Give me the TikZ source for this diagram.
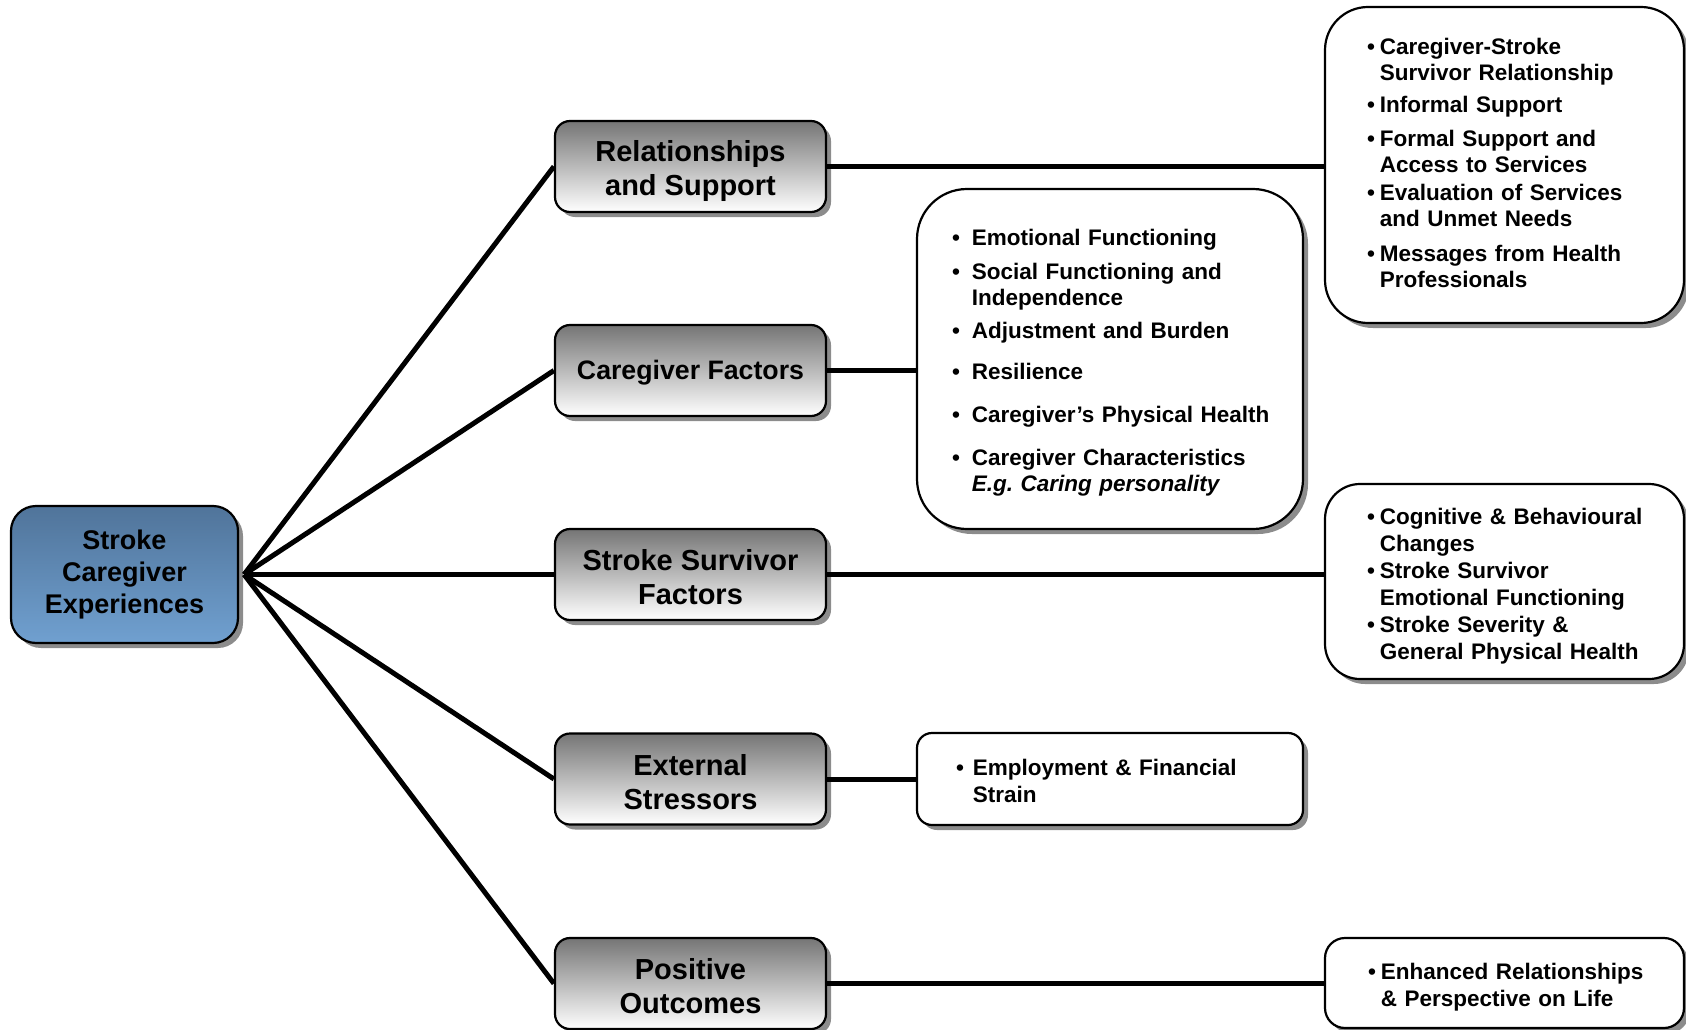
\documentclass[tikz,border=0pt]{standalone}
\usepackage{fontspec}
\setmainfont{Liberation Sans}
\usetikzlibrary{shadows}
\definecolor{rootTop}{RGB}{80,116,154}
\definecolor{rootBottom}{RGB}{112,160,208}
% struts for the factor boxes, and a shift that keeps the box size
\newcommand\topStrut{\rule{0pt}{30pt}}
\newcommand\botStrut{\rule[-4pt]{0pt}{4pt}}
\newcommand\lowerText[2]{\raisebox{-#1}[\height][\depth]{#2}}
\begin{document}
\begin{tikzpicture}[x=1pt,y=-1pt,
    boxshadow/.style={drop shadow={shadow xshift=5pt,shadow yshift=-5pt,fill=black!45,opacity=1}},
    rootbox/.style={draw,line width=2.2pt,rounded corners=25pt,boxshadow,
      top color=rootTop,bottom color=rootBottom,minimum width=227pt,minimum height=137pt,
      align=center,font=\bfseries\fontsize{27}{32}\selectfont},
    factorbox/.style={draw,line width=2.2pt,rounded corners=15pt,boxshadow,
      top color=black!54,bottom color=white,minimum width=271pt,minimum height=91pt,
      align=center,inner sep=0pt,font=\bfseries\fontsize{29}{34}\selectfont},
    listbox/.style={draw,line width=2.2pt,boxshadow,fill=white,align=left,inner ysep=0pt,
      font=\bfseries\fontsize{22.5}{26}\selectfont},
    fan/.style={line width=5pt},
    link/.style={line width=5pt}]
  \useasboundingbox (0,0) rectangle (1686,1030);
  \draw
    (124.5,574.5) node[rootbox] (root){Stroke\\Caregiver\\Experiences}
    (690.5,166.5) node[factorbox] (rel){\topStrut Relationships\\and Support\botStrut}
    (690.5,370.5) node[factorbox,font=\bfseries\fontsize{26.7}{32}\selectfont] (care){\rule[-5pt]{0pt}{29pt}Caregiver Factors}
    (690.5,574.5) node[factorbox] (surv){\topStrut Stroke Survivor\\Factors\botStrut}
    (690.5,779) node[factorbox] (ext){\topStrut External\\Stressors\botStrut}
    (690.5,983.5) node[factorbox] (pos){\topStrut Positive\\Outcomes\botStrut}
    (1504.5,165) node[listbox,rounded corners=43pt,text width=275pt,inner xsep=42pt,minimum height=316pt] (relList){%
      \lowerText{1pt}{\begin{tabular}{@{}l@{\hspace{5pt}}l@{}}
        \textbullet & Caregiver-Stroke\\
                    & Survivor Relationship\\[6pt]
        \textbullet & Informal Support\\[8pt]
        \textbullet & Formal Support and\\
                    & Access to Services\\[2pt]
        \textbullet & Evaluation of Services\\
                    & and Unmet Needs\\[9pt]
        \textbullet & Messages from Health\\
                    & Professionals
      \end{tabular}}}
    (1110,359) node[listbox,rounded corners=50pt,text width=316pt,inner xsep=35pt,minimum height=340pt] (careList){%
      \lowerText{4pt}{\begin{tabular}{@{}l@{\hspace{12pt}}l@{}}
        \textbullet & Emotional Functioning\\[8pt]
        \textbullet & Social Functioning and\\
                    & Independence\\[7pt]
        \textbullet & Adjustment and Burden\\[15pt]
        \textbullet & Resilience\\[17pt]
        \textbullet & Caregiver’s Physical Health\\[17pt]
        \textbullet & Caregiver Characteristics\\
                    & \textit{E.g.\ Caring personality}
      \end{tabular}}}
    (1504.5,581.5) node[listbox,rounded corners=35pt,text width=275pt,inner xsep=42pt,minimum height=195pt,
      font=\bfseries\fontsize{22.5}{27}\selectfont] (survList){%
      \lowerText{5pt}{\begin{tabular}{@{}l@{\hspace{5pt}}l@{}}
        \textbullet & Cognitive \& Behavioural\\
                    & Changes\\
        \textbullet & Stroke Survivor\\
                    & Emotional Functioning\\
        \textbullet & Stroke Severity \&\\
                    & General Physical Health
      \end{tabular}}}
    (1110,779) node[listbox,rounded corners=15pt,text width=308pt,inner xsep=39pt,minimum height=92pt,
      font=\bfseries\fontsize{22.5}{27}\selectfont] (extList){%
      \lowerText{5pt}{\begin{tabular}{@{}l@{\hspace{9pt}}l@{}}
        \textbullet & Employment \& Financial\\
                    & Strain
      \end{tabular}}}
    (1504.5,983) node[listbox,rounded corners=20pt,text width=273pt,inner xsep=43pt,minimum height=90pt,
      font=\bfseries\fontsize{22.5}{27}\selectfont] (posList){%
      \lowerText{5pt}{\begin{tabular}{@{}l@{\hspace{5pt}}l@{}}
        \textbullet & Enhanced Relationships\\
                    & \& Perspective on Life
      \end{tabular}}};
  \begin{scope}[fan]
    \draw ([xshift=5pt]root.east) to (rel.west);
    \draw ([xshift=5pt]root.east) to (care.west);
    \draw ([xshift=5pt]root.east) to (surv.west);
    \draw ([xshift=5pt]root.east) to (ext.west);
    \draw ([xshift=5pt]root.east) to (pos.west);
  \end{scope}
  \begin{scope}[link]
    \draw (rel.east) to (rel.east -| relList.west);
    \draw (care.east) to (care.east -| careList.west);
    \draw (surv.east) to (surv.east -| survList.west);
    \draw (ext.east) to (ext.east -| extList.west);
    \draw (pos.east) to (pos.east -| posList.west);
  \end{scope}
\end{tikzpicture}
\end{document}
